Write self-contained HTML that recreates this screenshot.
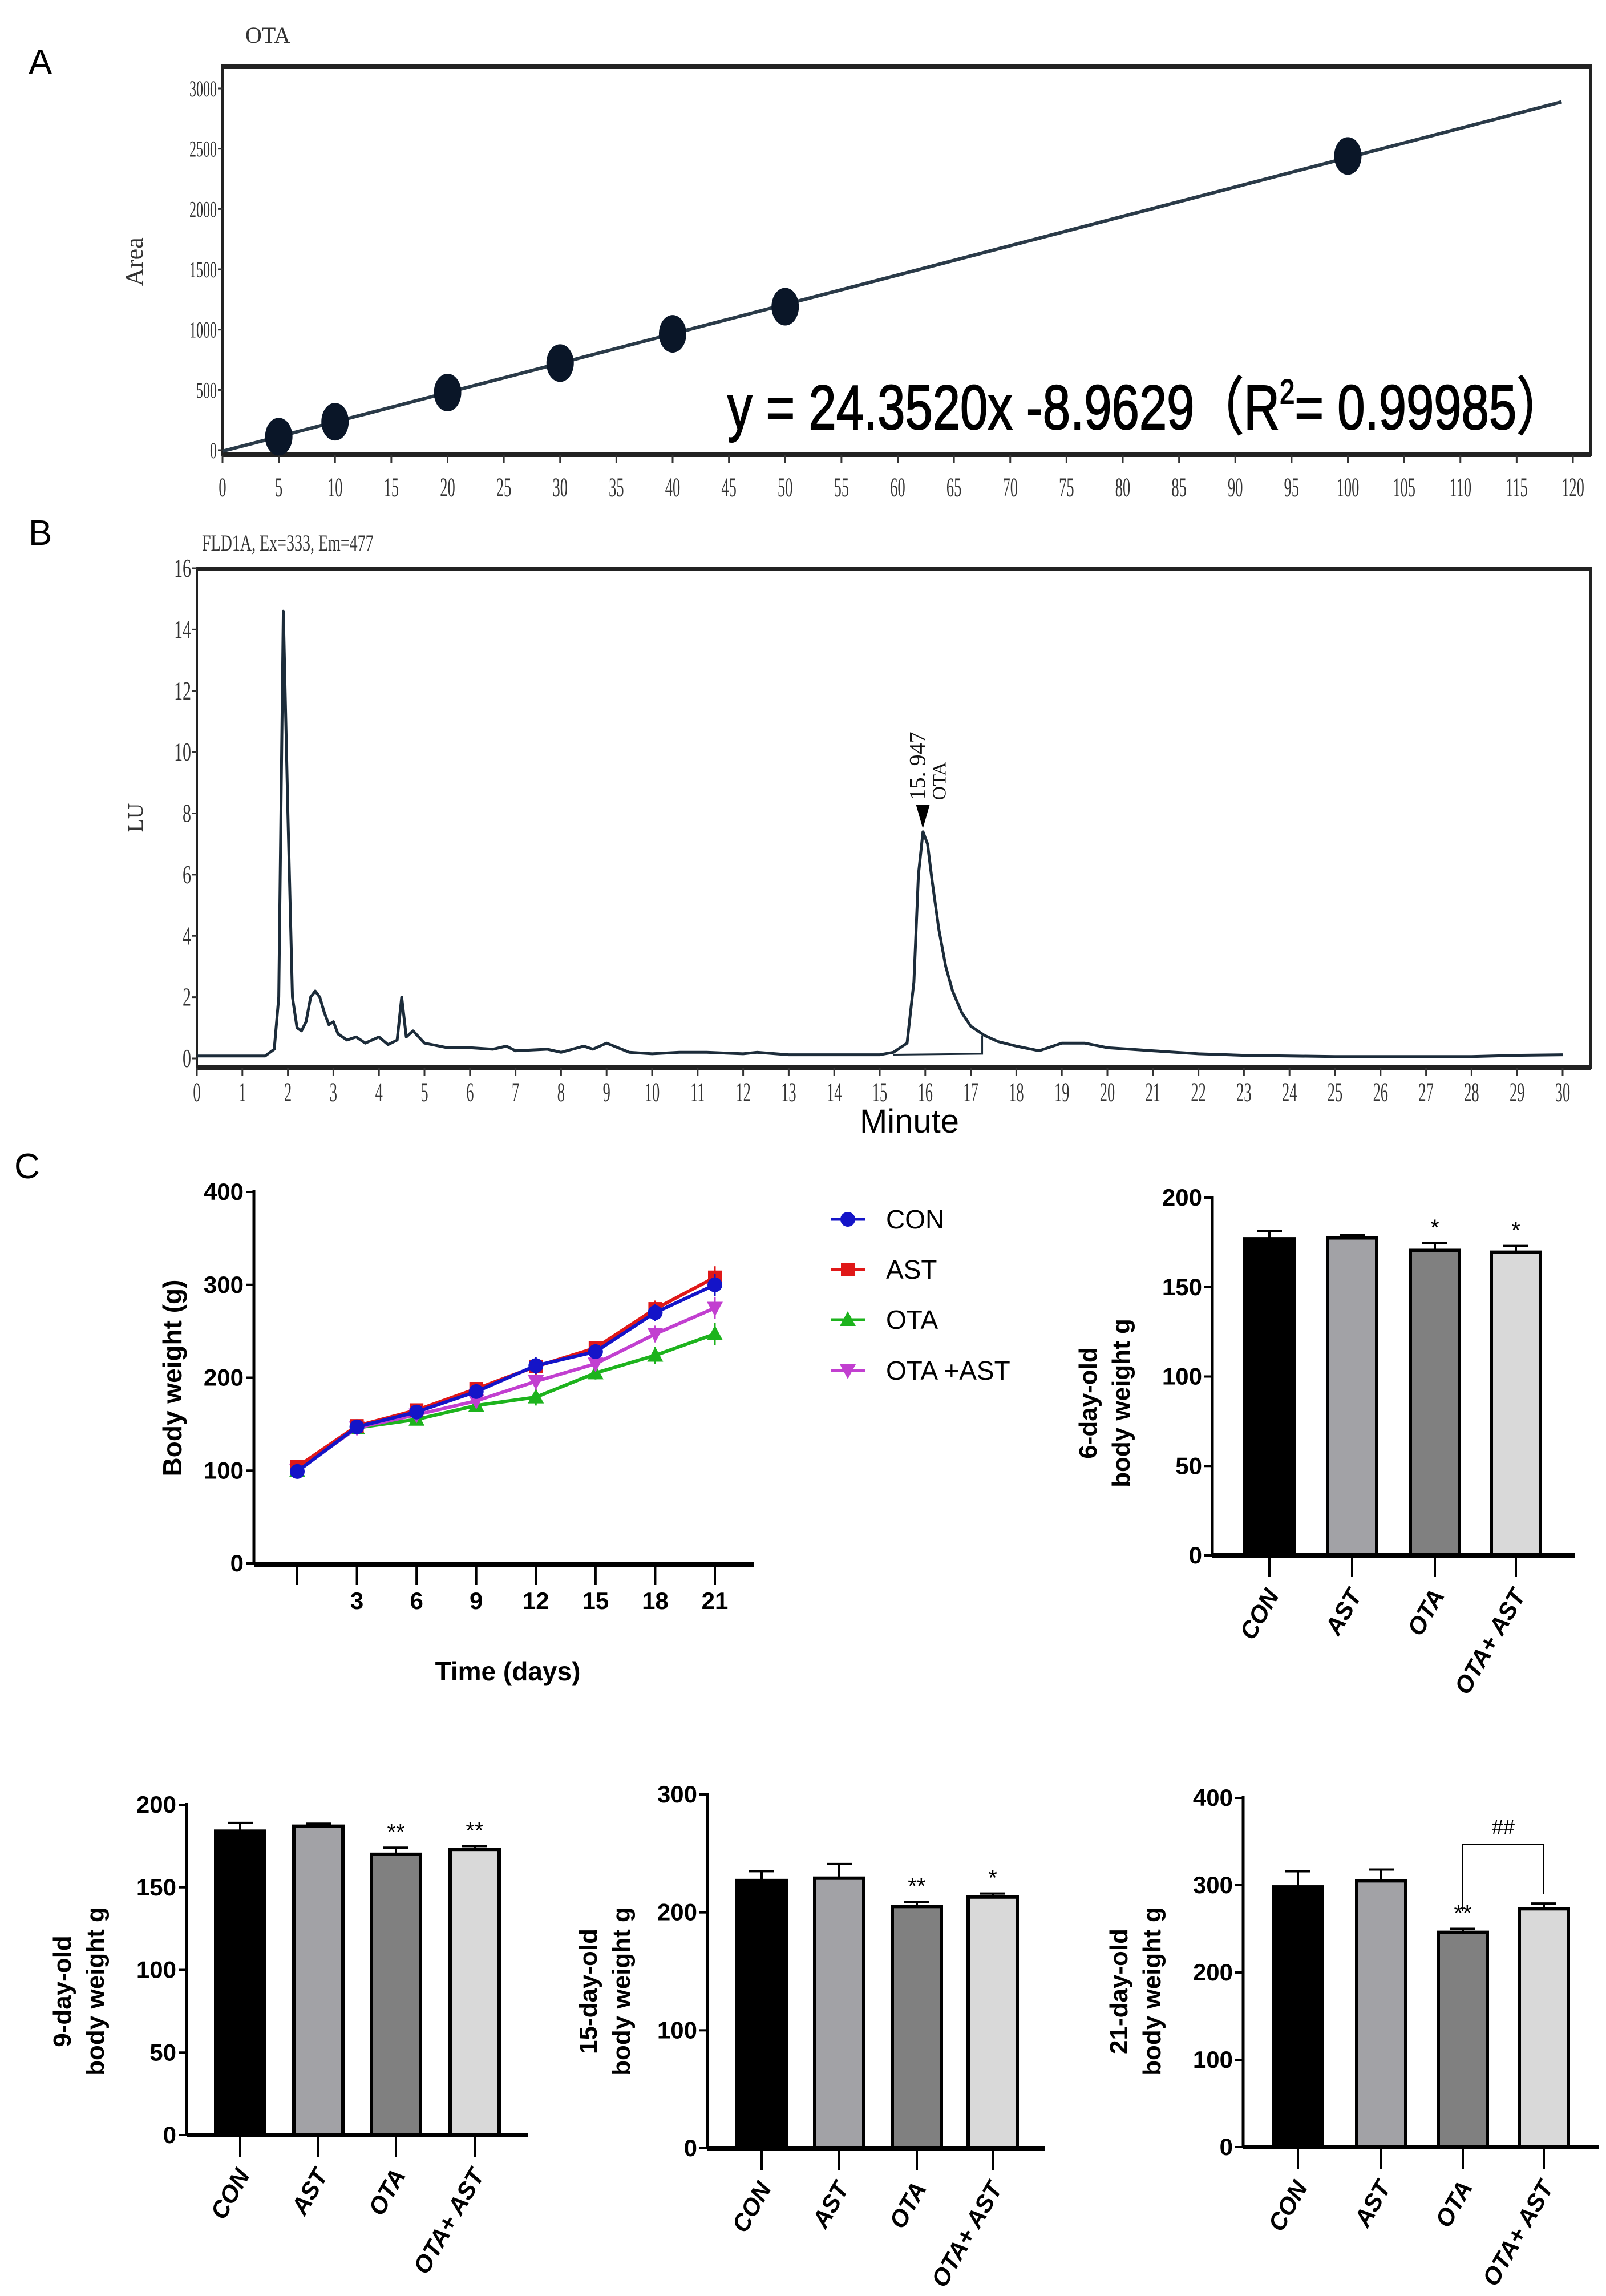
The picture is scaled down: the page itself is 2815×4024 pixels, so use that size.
<!DOCTYPE html>
<html><head><meta charset="utf-8">
<style>
html,body{margin:0;padding:0;background:#fff;}
svg{display:block;}
text{font-family:"Liberation Sans Narrow","Liberation Sans",sans-serif;}
.ser{font-family:"Liberation Serif",serif;}
.b{font-weight:bold;}
</style></head>
<body>
<svg id="fig" width="2815" height="4024" viewBox="0 0 2815 4024" xmlns="http://www.w3.org/2000/svg">
<text x="50" y="130" font-size="62">A</text>
<text x="50" y="955" font-size="62">B</text>
<text x="25" y="2065" font-size="62">C</text>
<g id="gA"></g>
<g id="gB"></g>
<g id="gC"></g>
<g id="gD"></g>
</svg>
<script>
// ---- Panel A data ----
const calX = [5, 10, 20, 30, 40, 50, 100];
const calY = [112, 236, 478, 722, 965, 1190, 2440];
const calXTicks = [0,5,10,15,20,25,30,35,40,45,50,55,60,65,70,75,80,85,90,95,100,105,110,115,120];
const calYTicks = [0,500,1000,1500,2000,2500,3000];
const fitSlope = 24.352, fitIntercept = -8.9629;
// ---- Panel B data ----
const chromT = [0,1.5,1.7,1.8,1.9,2.0,2.1,2.2,2.3,2.4,2.5,2.6,2.7,2.8,2.9,3.0,3.1,3.3,3.5,3.7,4.0,4.2,4.4,4.5,4.6,4.75,5.0,5.5,6,6.5,6.8,7,7.7,8,8.5,8.7,9,9.5,10,10.6,11.2,12,12.3,13,14,15,15.3,15.6,15.75,15.85,15.95,16.05,16.15,16.3,16.45,16.6,16.8,17.0,17.3,17.6,18,18.5,19,19.5,20,20.5,21,22,23,25,27,28,29,30];
const chromLU = [0.08,0.08,0.3,2,14.6,8,2,1.0,0.9,1.2,2.0,2.2,2.0,1.5,1.1,1.2,0.8,0.6,0.7,0.5,0.7,0.45,0.6,2.0,0.7,0.9,0.5,0.35,0.35,0.3,0.4,0.25,0.3,0.2,0.4,0.3,0.5,0.2,0.15,0.2,0.2,0.15,0.2,0.12,0.12,0.12,0.2,0.5,2.5,6,7.4,7.0,5.8,4.2,3.0,2.2,1.5,1.05,0.75,0.55,0.4,0.25,0.5,0.5,0.35,0.3,0.25,0.15,0.1,0.06,0.06,0.06,0.1,0.12];
const chromXTicks = Array.from({length:31},(_, i)=>i);
const chromYTicks = [0,2,4,6,8,10,12,14,16];
// ---- Panel C line data ----
const days = [0,3,6,9,12,15,18,21];
const dayTicks = [3,6,9,12,15,18,21];
const wCON = [99,147,163,185,213,228,270,300];
const wAST = [104,148,165,188,212,232,274,308];
const wOTA = [100,146,155,170,179,205,224,247];
const wOTAAST = [100,146,160,175,196,215,247,275];
const eCON = [5,4,5,5,9,7,9,12];
const lineYTicks = [0,100,200,300,400];
// ---- Bar data ----
const groups = ["CON","AST","OTA","OTA+ AST"];
const d6 = [177,177.5,170.5,169.5], d6e = [4.5,1.5,4,3.5], d6s = ["","","*","*"];
const d9 = [184,187,170,173], d9e = [5,1.5,4,2], d9s = ["","","**","**"];
const d15 = [227,229,205,213], d15e = [8,12,4,3], d15s = ["","","**","*"];
const d21 = [298,305,246,273], d21e = [18,13,4,6], d21s = ["","","**",""];
const t200 = [0,50,100,150,200], t300 = [0,100,200,300], t400 = [0,100,200,300,400];

const NS="http://www.w3.org/2000/svg";
function mk(p,tag,attrs,txt){const e=document.createElementNS(NS,tag);for(const k in attrs)e.setAttribute(k,attrs[k]);if(txt!==undefined)e.textContent=txt;p.appendChild(e);return e;}

// ===== Panel A =====
(function(){
 const g=document.getElementById('gA');
 const X0=390,X1=2757,Y0=789,Y1=155;
 const sx=v=>X0+(v/120)*(X1-X0), sy=v=>Y0-(v/3000)*(Y0-Y1);
 let e=mk(g,'text',{x:430,y:75,'font-size':40,class:'ser',fill:'#333'},'OTA');
 
 e=mk(g,'rect',{x:390,y:114,width:2398,height:684,fill:'none',stroke:'#222','stroke-width':4});
 
 e=mk(g,'line',{x1:390,y1:117,x2:2788,y2:117,stroke:'#222','stroke-width':8});
 
 e=mk(g,'line',{x1:390,y1:797,x2:2788,y2:797,stroke:'#222','stroke-width':8});
 
 calYTicks.forEach(v=>{const y=sy(v);
  let l=mk(g,'line',{x1:X0-8,y1:y,x2:X0,y2:y,stroke:'#333','stroke-width':3});
  
  let t=mk(g,'text',{x:X0-10,y:y+14,'font-size':40,'text-anchor':'end',class:'ser',fill:'#333',transform:`translate(${X0-10},0) scale(0.6,1) translate(${-(X0-10)},0)`},v);
  });
 calXTicks.forEach(v=>{const x=sx(v);
  let l=mk(g,'line',{x1:x,y1:798,x2:x,y2:812,stroke:'#333','stroke-width':3});
  
  let t=mk(g,'text',{x:0,y:0,'font-size':48,'text-anchor':'middle',class:'ser',fill:'#333',transform:`translate(${x},870) scale(0.55,1)`},v);
  });
 let t=mk(g,'text',{x:0,y:0,'font-size':44,'text-anchor':'middle',class:'ser',fill:'#333',transform:'translate(250,459) rotate(-90)'},'Area');
 
 let l=mk(g,'line',{x1:sx(0),y1:sy(fitIntercept),x2:sx(119),y2:sy(fitSlope*119+fitIntercept),stroke:'#2a3a48','stroke-width':6});
 
 calX.forEach((v,i)=>{let c=mk(g,'ellipse',{cx:sx(v),cy:sy(calY[i]),rx:24,ry:33,fill:'#0a1628'});
  });
 t=mk(g,'text',{x:1275,y:752,'font-size':110,fill:'#000',stroke:'#000','stroke-width':2,textLength:1470,lengthAdjust:'spacingAndGlyphs'});
 
 t.innerHTML='y = 24.3520x -8.9629（R<tspan font-size="60" dy="-45">2</tspan><tspan dy="45">= 0.99985）</tspan>';
})();

// ===== Panel B =====
(function(){
 const g=document.getElementById('gB');
 const X0=345,X1=2739,Y0=1855,Y1=996;
 const sx=v=>X0+(v/30)*(X1-X0), sy=v=>Y0-(v/16)*(Y0-Y1);
 let e=mk(g,'text',{x:0,y:0,'font-size':40,class:'ser',fill:'#333',transform:'translate(354,965) scale(0.7,1)'},'FLD1A, Ex=333,  Em=477');
 
 e=mk(g,'rect',{x:345,y:996,width:2443,height:876,fill:'none',stroke:'#222','stroke-width':4});
 
 e=mk(g,'line',{x1:345,y1:997,x2:2788,y2:997,stroke:'#222','stroke-width':8});
 
 e=mk(g,'line',{x1:345,y1:1871,x2:2788,y2:1871,stroke:'#222','stroke-width':8});
 
 chromYTicks.forEach(v=>{const y=sy(v);
  let l=mk(g,'line',{x1:X0-8,y1:y,x2:X0,y2:y,stroke:'#333','stroke-width':3});
  
  let t=mk(g,'text',{x:0,y:0,'font-size':46,'text-anchor':'end',class:'ser',fill:'#333',transform:`translate(${X0-10},${y+15}) scale(0.65,1)`},v);
  });
 chromXTicks.forEach(v=>{const x=sx(v);
  let l=mk(g,'line',{x1:x,y1:1872,x2:x,y2:1886,stroke:'#333','stroke-width':3});
  
  let t=mk(g,'text',{x:0,y:0,'font-size':48,'text-anchor':'middle',class:'ser',fill:'#333',transform:`translate(${x},1930) scale(0.55,1)`},v);
  });
 let t=mk(g,'text',{x:1594,y:1985,'font-size':58,'text-anchor':'middle',fill:'#000'},'Minute');
 
 t=mk(g,'text',{x:0,y:0,'font-size':38,'text-anchor':'middle',class:'ser',fill:'#333',transform:'translate(250,1433) rotate(-90)'},'LU');
 
 const d=chromT.map((v,i)=>(i?'L':'M')+sx(v).toFixed(1)+','+sy(chromLU[i]).toFixed(1)).join(' ');
 let p=mk(g,'path',{d:d,fill:'none',stroke:'#1c2c3a','stroke-width':5,'stroke-linejoin':'round'});
 
 p=mk(g,'path',{d:`M${sx(15.3)},${sy(0.12)} L${sx(17.25)},${sy(0.15)} L${sx(17.25)},${sy(0.75)}`,fill:'none',stroke:'#1c2c3a','stroke-width':3});
 
 const px=sx(15.947), py=sy(7.5);
 p=mk(g,'path',{d:`M${px-12},${py-42} L${px+12},${py-42} L${px},${py} Z`,fill:'#000'});
 
 t=mk(g,'text',{x:0,y:0,'font-size':40,class:'ser',fill:'#111',transform:`translate(${px+4},${py-50}) rotate(-90)`},'15. 947');
 
 t=mk(g,'text',{x:0,y:0,'font-size':34,class:'ser',fill:'#111',transform:`translate(${px+40},${py-50}) rotate(-90)`},'OTA');
 
})();

// ===== Panel C line =====
(function(){
 const g=document.getElementById('gC');
 const X0=445,XE=1322,Y0=2740,Y1=2089;
 const sx=v=>521+(v/21)*(1253-521), sy=v=>Y0-(v/400)*(Y0-Y1);
 let l=mk(g,'line',{x1:X0,y1:Y1-4,x2:X0,y2:Y0+3,stroke:'#000','stroke-width':5});
 
 l=mk(g,'line',{x1:X0,y1:Y0+2,x2:XE,y2:Y0+2,stroke:'#000','stroke-width':8});
 
 lineYTicks.forEach(v=>{const y=sy(v);
  let k=mk(g,'line',{x1:X0-14,y1:y,x2:X0,y2:y,stroke:'#000','stroke-width':4});
  
  let t=mk(g,'text',{x:X0-18,y:y+14,'font-size':42,'text-anchor':'end',class:'b'},v);
  });
 days.forEach(v=>{let k=mk(g,'line',{x1:sx(v),y1:Y0,x2:sx(v),y2:Y0+38,stroke:'#000','stroke-width':4});
  });
 dayTicks.forEach(v=>{let t=mk(g,'text',{x:sx(v),y:2820,'font-size':42,'text-anchor':'middle',class:'b'},v);
  });
 let t=mk(g,'text',{x:890,y:2945,'font-size':46,'text-anchor':'middle',class:'b'},'Time (days)');
 
 t=mk(g,'text',{x:0,y:0,'font-size':46,'text-anchor':'middle',style:'font-family:"Liberation Sans",sans-serif;font-weight:bold',transform:'translate(318,2415) rotate(-90)'},'Body weight (g)');
 
 const series=[[wOTA,'#1db31d','tri','OTA'],[wOTAAST,'#c23fd0','itri','OTA +AST'],[wAST,'#e01818','sq','AST'],[wCON,'#1414c8','circ','CON']];
 function marker(par,type,x,y,c){
  let m;
  if(type==='circ')m=mk(par,'circle',{cx:x,cy:y,r:13,fill:c});
  else if(type==='sq')m=mk(par,'rect',{x:x-12,y:y-12,width:24,height:24,fill:c});
  else if(type==='tri')m=mk(par,'path',{d:`M${x},${y-15} L${x+14},${y+11} L${x-14},${y+11}Z`,fill:c});
  else m=mk(par,'path',{d:`M${x},${y+15} L${x+14},${y-11} L${x-14},${y-11}Z`,fill:c});
  return m;}
 series.forEach(s=>{
  const d=days.map((v,i)=>(i?'L':'M')+sx(v)+','+sy(s[0][i])).join(' ');
  let p=mk(g,'path',{d:d,fill:'none',stroke:s[1],'stroke-width':6});
  
  days.forEach((v,i)=>{
   let eb=mk(g,'line',{x1:sx(v),y1:sy(s[0][i]-eCON[i]),x2:sx(v),y2:sy(s[0][i]+eCON[i]),stroke:s[1],'stroke-width':3});
   
   let m=marker(g,s[2],sx(v),sy(s[0][i]),s[1]);
   });
 });
 const leg=[['CON','#1414c8','circ',2137],['AST','#e01818','sq',2225],['OTA','#1db31d','tri',2313],['OTA +AST','#c23fd0','itri',2402]];
 leg.forEach(s=>{const lg=mk(g,'g',{});
  
  mk(lg,'line',{x1:1456,y1:s[3],x2:1516,y2:s[3],stroke:s[1],'stroke-width':5});
  marker(lg,s[2],1486,s[3],s[1]);
  mk(lg,'text',{x:1553,y:s[3]+16,'font-size':46},s[0]);});
})();

// ===== Bar charts =====
const fills=['#000000','#a2a2a6','#808080','#d9d9d9'];
function barChart(o){
 const g=mk(document.getElementById('gD'),'g',{});
 
 const top=o.ticks[o.ticks.length-1];
 const sy=v=>o.y0-(v/top)*(o.y0-o.y1);
 let l=mk(g,'line',{x1:o.x0,y1:o.y1-3,x2:o.x0,y2:o.y0,stroke:'#000','stroke-width':5});
 
 o.vals.forEach((v,i)=>{const cx=o.cx[i];
  let b=mk(g,'rect',{x:cx-43,y:sy(v),width:86,height:o.y0-sy(v),fill:fills[i],stroke:'#000','stroke-width':6});
  
  let e=mk(g,'path',{d:`M${cx},${sy(v)} L${cx},${sy(v+o.err[i])} M${cx-22},${sy(v+o.err[i])} L${cx+22},${sy(v+o.err[i])}`,stroke:'#000','stroke-width':4,fill:'none'});
  
  if(o.sig[i]){let s=mk(g,'text',{x:cx,y:sy(v+o.err[i])-14,'font-size':40,'text-anchor':'middle'},o.sig[i]);
   }
  let k=mk(g,'line',{x1:cx,y1:o.y0,x2:cx,y2:o.y0+38,stroke:'#000','stroke-width':4});
  
  let t=mk(g,'text',{x:0,y:0,'font-size':42,'text-anchor':'end',style:'font-family:"Liberation Sans",sans-serif;font-weight:bold;font-style:italic',transform:`translate(${cx+18},${o.y0+70}) rotate(-60)`},groups[i]);
  });
 l=mk(g,'line',{x1:o.x0,y1:o.y0,x2:o.xe,y2:o.y0,stroke:'#000','stroke-width':8});
 
 o.ticks.forEach(v=>{const y=sy(v);
  let k=mk(g,'line',{x1:o.x0-14,y1:y,x2:o.x0,y2:y,stroke:'#000','stroke-width':4});
  
  let t=mk(g,'text',{x:o.x0-18,y:y+14,'font-size':42,'text-anchor':'end',class:'b'},v);
  });
 let t=mk(g,'text',{x:0,y:0,'font-size':44,'text-anchor':'middle',style:'font-family:"Liberation Sans",sans-serif;font-weight:bold',transform:`translate(${o.lx},${o.ly}) rotate(-90)`},o.title1);
 
 t=mk(g,'text',{x:0,y:0,'font-size':44,'text-anchor':'middle',style:'font-family:"Liberation Sans",sans-serif;font-weight:bold',transform:`translate(${o.lx+58},${o.ly}) rotate(-90)`},'body weight  g');
 
 return {g,sy};
}
barChart({name:'bar-chart-6-day',x0:2125,xe:2760,y0:2726,y1:2099,cx:[2225,2370,2515,2657],vals:d6,err:d6e,sig:d6s,ticks:t200,title1:'6-day-old',lx:1922,ly:2459});
barChart({name:'bar-chart-9-day',x0:327,xe:926,y0:3742,y1:3163,cx:[421,558,694,832],vals:d9,err:d9e,sig:d9s,ticks:t200,title1:'9-day-old',lx:124,ly:3490});
barChart({name:'bar-chart-15-day',x0:1240,xe:1831,y0:3765,y1:3145,cx:[1335,1471,1607,1740],vals:d15,err:d15e,sig:d15s,ticks:t300,title1:'15-day-old',lx:1046,ly:3490});
const c21=barChart({name:'bar-chart-21-day',x0:2179,xe:2802,y0:3763,y1:3151,cx:[2275,2421,2564,2706],vals:d21,err:d21e,sig:d21s,ticks:t400,title1:'21-day-old',lx:1976,ly:3490});
(function(){const yb=c21.sy(347);
 let p=mk(c21.g,'path',{d:`M2564,${c21.sy(270)} L2564,${yb} L2706,${yb} L2706,${c21.sy(290)}`,fill:'none',stroke:'#000','stroke-width':2});
 
 let t=mk(c21.g,'text',{x:2635,y:yb-18,'font-size':36,'text-anchor':'middle'},'##');
 })();
</script>
</body></html>
